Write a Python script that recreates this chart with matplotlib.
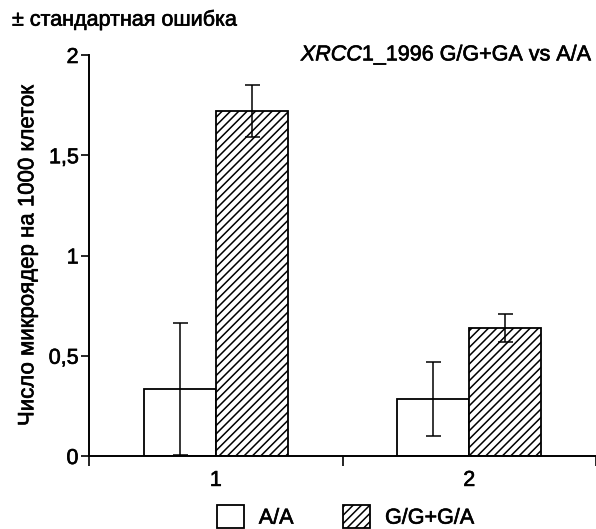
import matplotlib
matplotlib.use("Agg")
import matplotlib.pyplot as plt
from matplotlib.patches import Patch
import matplotlib.patheffects as pe
import numpy as np

plt.rcParams['font.family'] = ['Liberation Sans', 'DejaVu Sans']
plt.rcParams['mathtext.fontset'] = 'custom'
plt.rcParams['mathtext.it'] = 'Liberation Sans:italic'
plt.rcParams['mathtext.rm'] = 'Liberation Sans'
plt.rcParams['hatch.linewidth'] = 1.1

groups = ["1", "2"]
series_names = ["A/A", "G/G+G/A"]
aa_vals = [0.335, 0.285]
aa_err = [0.33, 0.185]
gg_vals = [1.72, 0.64]
gg_err = [0.13, 0.07]
yticks = [0, 0.5, 1, 1.5, 2]
ytick_labels = ["0", "0,5", "1", "1,5", "2"]
ylabel = "Число микроядер на 1000 клеток"
top_note = "± стандартная ошибка"
title = r"$\mathit{XRCC1}$_1996 G/G+GA vs A/A"

W, H = 596, 529
fig = plt.figure(figsize=(W / 100, H / 100), dpi=100)
ax = fig.add_axes([89 / W, 73 / H, 507 / W, 401 / H])

fs = 15.5
bold = [pe.withStroke(linewidth=0.45, foreground="black")]
centers = np.arange(len(groups)) + 0.5
bw = 0.285
lw = 1.3
ax.bar(centers - bw / 2, aa_vals, bw, color="white", edgecolor="black", linewidth=lw, zorder=2)
ax.bar(centers + bw / 2, gg_vals, bw, color="white", edgecolor="black", linewidth=lw,
       hatch="////", zorder=2)
ax.errorbar(centers - bw / 2, aa_vals, yerr=aa_err, fmt="none", ecolor="black",
            elinewidth=1.1, capsize=5.4, capthick=1.1, zorder=3)
ax.errorbar(centers + bw / 2, gg_vals, yerr=gg_err, fmt="none", ecolor="black",
            elinewidth=1.1, capsize=5.4, capthick=1.1, zorder=3)

ax.set_xlim(0, 1.98)
ax.set_ylim(0, 2)
for s in ["top", "right"]:
    ax.spines[s].set_visible(False)
for s in ["left", "bottom"]:
    ax.spines[s].set_linewidth(1.4)
ax.spines["left"].set_zorder(4)
ax.spines["bottom"].set_zorder(4)

ax.set_yticks(yticks)
ax.set_yticklabels(ytick_labels, fontsize=fs)
ax.tick_params(axis="y", length=6, width=1.2, pad=1.5)

ax.set_xticks([0, 1, 2])
ax.set_xticklabels(["", "", ""])
ax.set_xticks(centers, minor=True)
ax.set_xticklabels(groups, minor=True, fontsize=fs)
ax.tick_params(axis="x", which="major", length=7, width=1.2)
ax.tick_params(axis="x", which="minor", length=0, pad=10)

ax.set_ylabel(ylabel, fontsize=16)
ax.yaxis.set_label_coords(-0.1, 0.5)

fig.text(12 / W, 1 - 20 / H, top_note, fontsize=fs, ha="left", va="center", path_effects=bold)
fig.text(593 / W, 1 - 55 / H, title, fontsize=fs, ha="right", va="center", path_effects=bold)

handles = [Patch(facecolor="white", edgecolor="black", linewidth=lw),
           Patch(facecolor="white", edgecolor="black", linewidth=lw, hatch="////")]
leg = fig.legend(handles, series_names, loc="upper center", bbox_to_anchor=(345.5 / W, 1 - 505 / H),
                 ncol=2, frameon=False, fontsize=fs, borderpad=0, borderaxespad=0,
                 handlelength=1.25, handleheight=1.25, handletextpad=0.7, columnspacing=2.3)
for t in leg.get_texts():
    t.set_path_effects(bold)
for t in ax.get_yticklabels() + ax.get_xticklabels(minor=True) + [ax.yaxis.label]:
    t.set_path_effects(bold)

fig.savefig("out.png", dpi=100)
